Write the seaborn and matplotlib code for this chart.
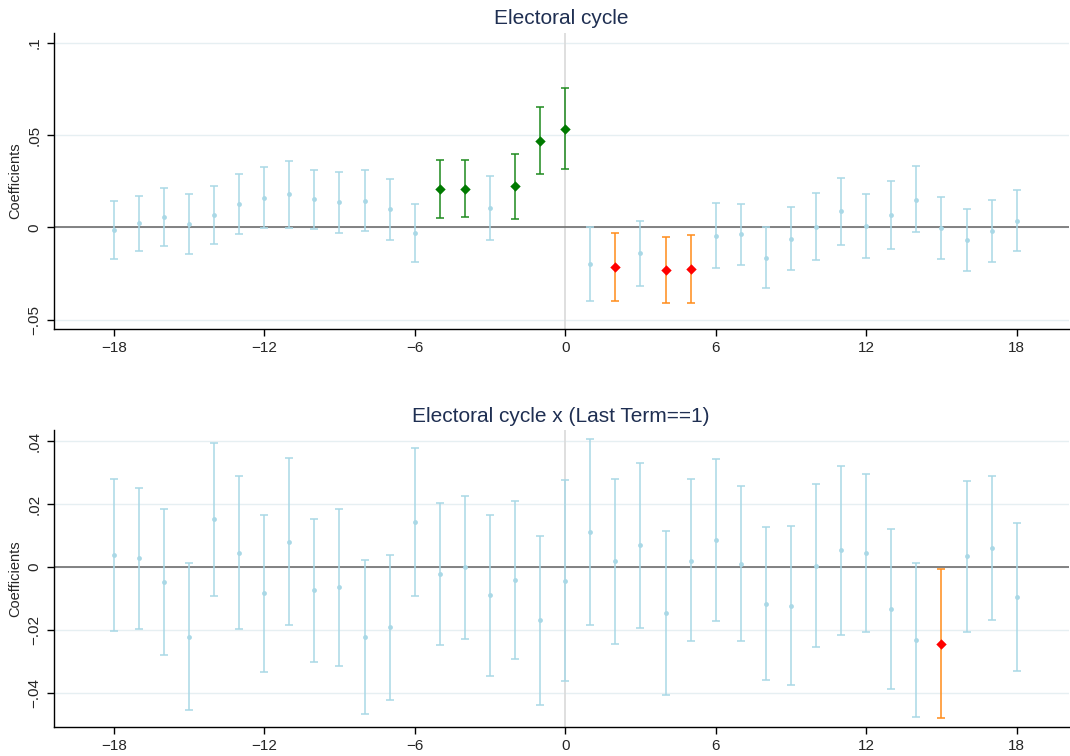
import numpy as np
import pandas as pd
import matplotlib
matplotlib.use("Agg")
import matplotlib.pyplot as plt
from matplotlib.ticker import FuncFormatter
import seaborn as sns

# Event time relative to the election (months)
lags = list(range(-18, 19))

# Panel 1: electoral cycle
cycle_coef = [-0.0013, 0.0022, 0.0058, 0.0016, 0.0067, 0.0128, 0.0161, 0.0180, 0.0152, 0.0135,
              0.0144, 0.0097, -0.0029, 0.0208, 0.0209, 0.0103, 0.0224, 0.0469, 0.0534,
              -0.0200, -0.0215, -0.0141, -0.0231, -0.0224, -0.0045, -0.0038, -0.0164, -0.0061,
              0.0004, 0.0087, 0.0009, 0.0065, 0.0150, -0.0004, -0.0067, -0.0020, 0.0036]
cycle_hi = [0.0144, 0.0170, 0.0213, 0.0179, 0.0226, 0.0289, 0.0327, 0.0359, 0.0312, 0.0300,
            0.0312, 0.0260, 0.0126, 0.0365, 0.0365, 0.0276, 0.0399, 0.0653, 0.0753,
            0.0002, -0.0031, 0.0036, -0.0054, -0.0042, 0.0132, 0.0128, 0.0001, 0.0110,
            0.0188, 0.0267, 0.0182, 0.0251, 0.0330, 0.0166, 0.0101, 0.0150, 0.0204]
cycle_lo = [-0.0171, -0.0126, -0.0099, -0.0144, -0.0092, -0.0034, -0.0005, -0.0002, -0.0011, -0.0031,
            -0.0022, -0.0067, -0.0186, 0.0049, 0.0054, -0.0069, 0.0045, 0.0289, 0.0316,
            -0.0401, -0.0399, -0.0319, -0.0410, -0.0408, -0.0222, -0.0204, -0.0329, -0.0233,
            -0.0179, -0.0096, -0.0164, -0.0119, -0.0027, -0.0173, -0.0235, -0.0190, -0.0130]

# Panel 2: electoral cycle interacted with last term
last_coef = [0.0037, 0.0028, -0.0048, -0.0221, 0.0151, 0.0046, -0.0082, 0.0081, -0.0073, -0.0065,
             -0.0222, -0.0191, 0.0144, -0.0021, 0.0000, -0.0090, -0.0041, -0.0169, -0.0045,
             0.0112, 0.0018, 0.0069, -0.0146, 0.0020, 0.0087, 0.0011, -0.0116, -0.0123,
             0.0004, 0.0054, 0.0045, -0.0133, -0.0231, -0.0244, 0.0034, 0.0060, -0.0094]
last_hi = [0.0278, 0.0252, 0.0184, 0.0012, 0.0394, 0.0288, 0.0166, 0.0345, 0.0154, 0.0184,
           0.0022, 0.0039, 0.0379, 0.0204, 0.0227, 0.0164, 0.0211, 0.0100, 0.0276,
           0.0405, 0.0281, 0.0331, 0.0115, 0.0278, 0.0344, 0.0256, 0.0127, 0.0129,
           0.0265, 0.0322, 0.0296, 0.0122, 0.0013, -0.0007, 0.0272, 0.0288, 0.0140]
last_lo = [-0.0202, -0.0197, -0.0281, -0.0453, -0.0091, -0.0197, -0.0332, -0.0184, -0.0303, -0.0313,
           -0.0467, -0.0423, -0.0093, -0.0249, -0.0229, -0.0345, -0.0293, -0.0437, -0.0363,
           -0.0183, -0.0245, -0.0194, -0.0407, -0.0236, -0.0170, -0.0236, -0.0358, -0.0376,
           -0.0255, -0.0215, -0.0205, -0.0389, -0.0476, -0.0480, -0.0205, -0.0169, -0.0329]

panel_titles = ["Electoral cycle", "Electoral cycle x (Last Term==1)"]
x_ticks = [-18, -12, -6, 0, 6, 12, 18]
y_ticks_top = [-0.05, 0, 0.05, 0.1]
y_ticks_bottom = [-0.04, -0.02, 0, 0.02, 0.04]

sns.set_theme(style="white")
plt.rcParams["font.family"] = ["Liberation Sans", "DejaVu Sans"]

NS_COLOR = "#a9d8e6"
STYLE = {
    "ns": dict(bar=NS_COLOR, pt=NS_COLOR, marker="o", size=12),
    "pos": dict(bar="#1e8a1e", pt="#007a00", marker="D", size=28),
    "neg": dict(bar="#ff8c1a", pt="#ff0000", marker="D", size=28),
}


def build_frame(coef, lo, hi):
    df = pd.DataFrame({"lag": lags, "coef": coef, "lo": lo, "hi": hi})
    df["sig"] = np.where(df["lo"] > 0, "pos", np.where(df["hi"] < 0, "neg", "ns"))
    return df


def stata_fmt(v, _pos):
    if abs(v) < 1e-12:
        return "0"
    s = f"{abs(v):g}".lstrip("0")
    return ("\u2212" if v < 0 else "") + s


fig, axes = plt.subplots(2, 1, figsize=(10.7, 7.56), dpi=100)
fig.subplots_adjust(left=0.05, right=0.999, top=0.957, bottom=0.038, hspace=0.34)

panels = [
    (build_frame(cycle_coef, cycle_lo, cycle_hi), y_ticks_top, (-0.0553, 0.1056)),
    (build_frame(last_coef, last_lo, last_hi), y_ticks_bottom, (-0.0509, 0.0434)),
]

for ax, title, (df, yt, ylim) in zip(axes, panel_titles, panels):
    for yv in yt:
        ax.axhline(yv, color="#e6eff2", lw=1.0, zorder=0)
    ax.axvline(0, color="#dcdcdc", lw=1.3, zorder=0.5)
    ax.axhline(0, color="#6e6e6e", lw=1.2, zorder=1)

    for key, st in STYLE.items():
        sub = df[df["sig"] == key]
        if sub.empty:
            continue
        ax.errorbar(sub["lag"], sub["coef"],
                    yerr=[sub["coef"] - sub["lo"], sub["hi"] - sub["coef"]],
                    fmt="none", ecolor=st["bar"], elinewidth=1.1,
                    capsize=3.2, capthick=1.1, zorder=2)
        sns.scatterplot(data=sub, x="lag", y="coef", ax=ax, color=st["pt"],
                        marker=st["marker"], s=st["size"], linewidth=0,
                        legend=False, zorder=3)

    ax.set_xlim(-20.4, 20.08)
    ax.set_ylim(*ylim)
    ax.set_xticks(x_ticks)
    ax.set_yticks(yt)
    ax.yaxis.set_major_formatter(FuncFormatter(stata_fmt))
    ax.tick_params(axis="both", which="major", direction="out", length=5,
                   width=1, color="black", labelsize=11, bottom=True, left=True)
    for lab in ax.get_yticklabels():
        lab.set_rotation(90)
        lab.set_va("center")
    ax.set_xlabel("")
    ax.set_ylabel("Coefficients", fontsize=10.5, labelpad=4)
    ax.set_title(title, fontsize=15, color="#1f2f52", pad=6)
    sns.despine(ax=ax)
    for side in ("left", "bottom"):
        ax.spines[side].set_color("black")
        ax.spines[side].set_linewidth(1.0)

fig.savefig("out.png", dpi=100)
